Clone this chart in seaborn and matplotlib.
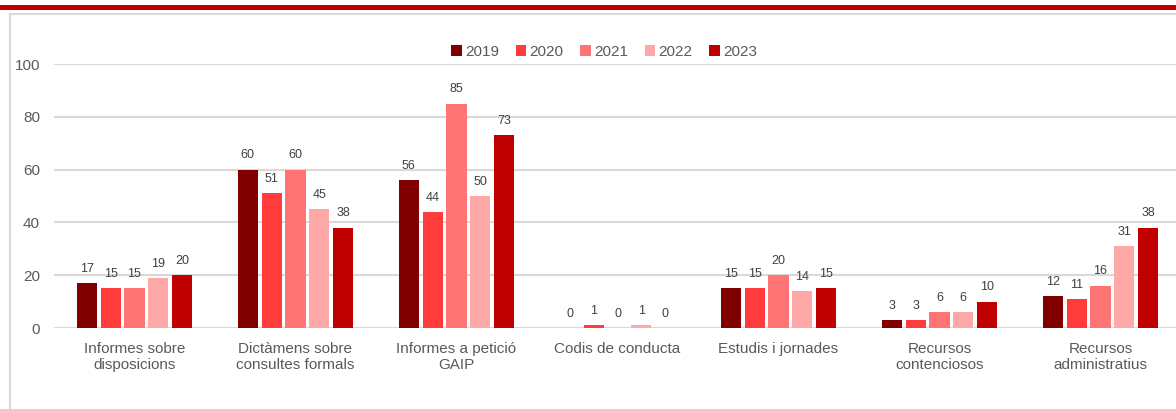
import numpy as np
import pandas as pd
import seaborn as sns
import matplotlib.pyplot as plt
from matplotlib.lines import Line2D
from matplotlib.patches import Rectangle

# chart data
categories = ["Informes sobre\ndisposicions", "Dictàmens sobre\nconsultes formals",
              "Informes a petició\nGAIP", "Codis de conducta", "Estudis i jornades",
              "Recursos\ncontenciosos", "Recursos\nadministratius"]
years = ["2019", "2020", "2021", "2022", "2023"]
v2019 = [17, 60, 56, 0, 15, 3, 12]
v2020 = [15, 51, 44, 1, 15, 3, 11]
v2021 = [15, 60, 85, 0, 20, 6, 16]
v2022 = [19, 45, 50, 1, 14, 6, 31]
v2023 = [20, 38, 73, 0, 15, 10, 38]
colors = ["#800000", "#FF3B3B", "#FF7575", "#FFA8A8", "#C00000"]

rows = []
for yr, vals in zip(years, [v2019, v2020, v2021, v2022, v2023]):
    for cat, v in zip(categories, vals):
        rows.append({"cat": cat, "year": yr, "value": v})
df = pd.DataFrame(rows)

sns.set_theme(style="white")
plt.rcParams['font.family'] = ['Liberation Sans', 'DejaVu Sans']

fig = plt.figure(figsize=(11.76, 4.09), dpi=100)
# plot area runs slightly past the right edge, as in the original
ax = fig.add_axes([54 / 1176, 0.198, 1127 / 1176, 0.6455])

sns.barplot(data=df, x="cat", y="value", hue="year", palette=colors,
            order=categories, hue_order=years, width=0.74, gap=0.16,
            saturation=1, edgecolor="none", ax=ax, legend=True)

for cont in ax.containers:
    ax.bar_label(cont, fmt="%d", padding=6, fontsize=9, color="#404040")

ax.set_ylim(0, 100)
ax.set_yticks([0, 20, 40, 60, 80, 100])
ax.set_xlim(-0.5, len(categories) - 0.5)
ax.yaxis.grid(True, color="#d9d9d9", linewidth=1.5)
ax.set_axisbelow(True)
for s in ax.spines.values():
    s.set_visible(False)
ax.tick_params(axis="y", length=0, pad=10, labelsize=11, labelcolor="#595959")
ax.tick_params(axis="x", length=0, pad=10, labelsize=11, labelcolor="#595959")
ax.set_xlabel("")
ax.set_ylabel("")

handles, labels = ax.get_legend_handles_labels()
ax.legend(handles, labels, loc="center", bbox_to_anchor=(604 / 1176, 0.874),
          bbox_transform=fig.transFigure, ncol=5, frameon=False,
          handlelength=0.7, handleheight=0.7, handletextpad=0.2,
          columnspacing=1.1, fontsize=11, labelcolor="#595959")

# decorative frame: red band on top and gray border
fig.add_artist(Rectangle((0, 1 - 9.5 / 409), 1, 5 / 409, transform=fig.transFigure,
                         color="#C00000", lw=0))
fig.add_artist(Line2D([10 / 1176, 1], [1 - 14 / 409, 1 - 14 / 409],
                      transform=fig.transFigure, color="#d9d9d9", lw=1.5))
fig.add_artist(Line2D([10 / 1176, 10 / 1176], [0, 1 - 14 / 409],
                      transform=fig.transFigure, color="#d9d9d9", lw=1.5))

fig.savefig("out.png", dpi=100, facecolor="white")
